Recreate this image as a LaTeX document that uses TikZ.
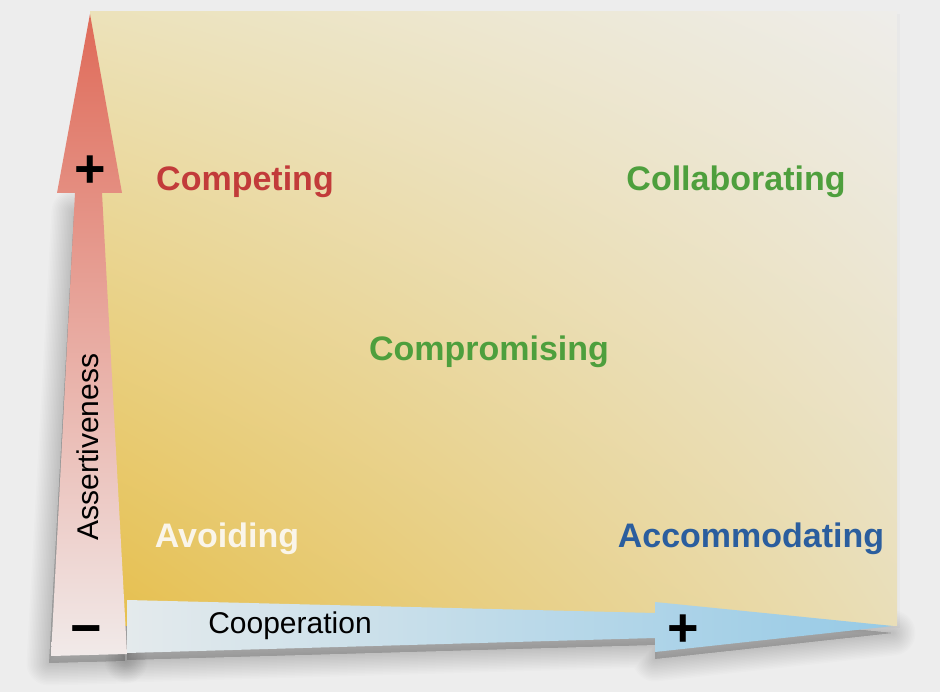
\documentclass[tikz,border=0pt]{standalone}
\usepackage{fontspec}
\setmainfont{Liberation Sans}
\usetikzlibrary{shadings}
\begin{document}
\begin{tikzpicture}[x=1pt,y=-1pt,
  quadlabel/.style={font=\fontsize{34}{38}\selectfont\bfseries, inner sep=0pt, anchor=base},
  axislabel/.style={font=\fontsize{30}{34}\selectfont, inner sep=0pt, text=black},
  signlabel/.style={font=\fontsize{54}{58}\selectfont\bfseries, inner sep=0pt, text=black, anchor=base},
  softshadow/.style={fill=black, draw=black, opacity=0.013, line join=round}]
\definecolor{bgc}{HTML}{EDEDED}
\definecolor{competec}{HTML}{C23B3A}
\definecolor{greenc}{HTML}{4E9F3D}
\definecolor{avoidc}{HTML}{FAF5EA}
\definecolor{accomc}{HTML}{2B5E9E}
\definecolor{panelul}{RGB}{236,226,186}
\definecolor{panelur}{RGB}{238,237,234}
\definecolor{panelll}{RGB}{230,190,74}
\definecolor{panellr}{RGB}{233,222,184}
\definecolor{coopl}{RGB}{228,234,236}
\definecolor{coopr}{RGB}{150,202,230}
\definecolor{assertt}{RGB}{223,106,88}
\definecolor{assertm}{RGB}{232,170,160}
\definecolor{assertb}{RGB}{241,234,233}
% page background
\fill[bgc] (0,0) rectangle (940,692);
\useasboundingbox (0,0) rectangle (940,692);
% arrow outlines
\def\harrow{(127,600) -- (655,613) -- (655,602) -- (893,626) -- (655,652) -- (655,638) -- (127,653) -- cycle}
\def\varrow{(90,14) -- (122,193) -- (102,193) -- (127,654) -- (51,656) -- (75,193) -- (57,193) -- cycle}
\def\vshaft{(76,205) -- (102,205) -- (127,654) -- (51,656) -- cycle}
% soft drop shadows of both arrows (the panel and the arrow head hide their upper parts)
\foreach \w in {45,42,...,3}{
  \path[softshadow, line width=\w pt, shift={(0,7)}] \harrow;
  \path[softshadow, line width=\w pt, shift={(-2,7)}] \vshaft;
}
% faint panel shadow and warm panel
\fill[black, opacity=0.02] (92,14) rectangle (900,628);
\shade[upper left=panelul, upper right=panelur,
       lower left=panelll, lower right=panellr]
  (90,12) rectangle (897,625);
% cooperation arrow
\shade[left color=coopl, right color=coopr] \harrow;
% assertiveness arrow
\shade[top color=assertt, middle color=assertm, bottom color=assertb] \varrow;
% axis labels and signs
\node[axislabel, rotate=90] (assert) at (88,447) {Assertiveness};
\node[axislabel] (coop) at (290,626) {Cooperation};
\node[signlabel] (plusv) at (90,188) {+};
\node[signlabel] (plush) at (683,646) {+};
\node[signlabel] (minus) at (86,646) {−};
% conflict modes
\node[quadlabel, text=competec] (competing) at (245,191) {Competing};
\node[quadlabel, text=greenc] (collab) at (736,191) {Collaborating};
\node[quadlabel, text=greenc] (compromise) at (489,361) {Compromising};
\node[quadlabel, text=avoidc] (avoiding) at (227,547) {Avoiding};
\node[quadlabel, text=accomc] (accom) at (751,547) {Accommodating};
\end{tikzpicture}
\end{document}
